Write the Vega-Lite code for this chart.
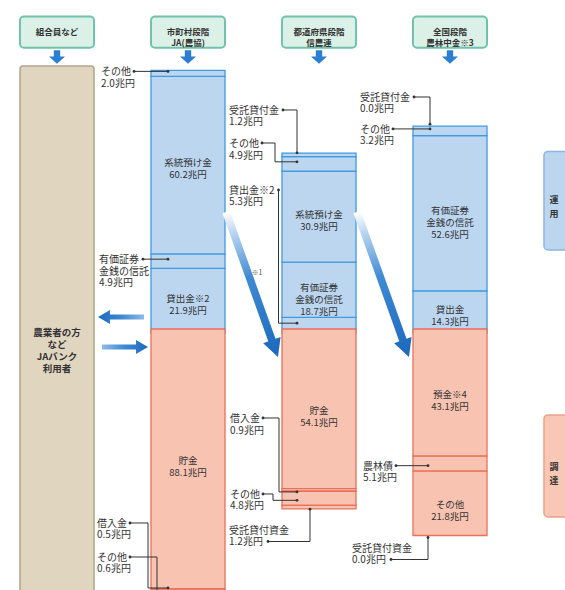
{
  "$schema": "https://vega.github.io/schema/vega-lite/v6.json",
  "width": 565,
  "height": 590,
  "autosize": {"type": "none"},
  "padding": 0,
  "background": "white",
  "config": {"view": {"stroke": null}, "font": "Noto Sans CJK JP", "text": {"font": "Noto Sans CJK JP"}},
  "datasets": {
    "bs": [
      {"col": "市町村段階 JA(農協)", "side": "資産", "item": "貸出金", "ord": 1, "value": 21.9, "inner": ["貸出金※2", "21.9兆円"]},
      {"col": "市町村段階 JA(農協)", "side": "資産", "item": "有価証券・金銭の信託", "ord": 2, "value": 4.9, "inner": ""},
      {"col": "市町村段階 JA(農協)", "side": "資産", "item": "系統預け金", "ord": 3, "value": 60.2, "inner": ["系統預け金", "60.2兆円"]},
      {"col": "市町村段階 JA(農協)", "side": "資産", "item": "その他", "ord": 4, "value": 2.0, "inner": ""},
      {"col": "市町村段階 JA(農協)", "side": "負債", "item": "貯金", "ord": 1, "value": 88.1, "inner": ["貯金", "88.1兆円"]},
      {"col": "市町村段階 JA(農協)", "side": "負債", "item": "借入金", "ord": 2, "value": 0.5, "inner": ""},
      {"col": "市町村段階 JA(農協)", "side": "負債", "item": "その他", "ord": 3, "value": 0.6, "inner": ""},
      {"col": "都道府県段階 信農連", "side": "資産", "item": "貸出金", "ord": 1, "value": 5.3, "inner": ""},
      {"col": "都道府県段階 信農連", "side": "資産", "item": "有価証券・金銭の信託", "ord": 2, "value": 18.7, "inner": ["有価証券", "金銭の信託", "18.7兆円"]},
      {"col": "都道府県段階 信農連", "side": "資産", "item": "系統預け金", "ord": 3, "value": 30.9, "inner": ["系統預け金", "30.9兆円"]},
      {"col": "都道府県段階 信農連", "side": "資産", "item": "その他", "ord": 4, "value": 4.9, "inner": ""},
      {"col": "都道府県段階 信農連", "side": "資産", "item": "受託貸付金", "ord": 5, "value": 1.2, "inner": ""},
      {"col": "都道府県段階 信農連", "side": "負債", "item": "貯金", "ord": 1, "value": 54.1, "inner": ["貯金", "54.1兆円"]},
      {"col": "都道府県段階 信農連", "side": "負債", "item": "借入金", "ord": 2, "value": 0.9, "inner": ""},
      {"col": "都道府県段階 信農連", "side": "負債", "item": "その他", "ord": 3, "value": 4.8, "inner": ""},
      {"col": "都道府県段階 信農連", "side": "負債", "item": "受託貸付資金", "ord": 4, "value": 1.2, "inner": ""},
      {"col": "全国段階 農林中金", "side": "資産", "item": "貸出金", "ord": 1, "value": 14.3, "inner": ["貸出金", "14.3兆円"]},
      {"col": "全国段階 農林中金", "side": "資産", "item": "有価証券・金銭の信託", "ord": 2, "value": 52.6, "inner": ["有価証券", "金銭の信託", "52.6兆円"]},
      {"col": "全国段階 農林中金", "side": "資産", "item": "その他", "ord": 3, "value": 3.2, "inner": ""},
      {"col": "全国段階 農林中金", "side": "資産", "item": "受託貸付金", "ord": 4, "value": 0.0, "inner": ""},
      {"col": "全国段階 農林中金", "side": "負債", "item": "預金", "ord": 1, "value": 43.1, "inner": ["預金※4", "43.1兆円"]},
      {"col": "全国段階 農林中金", "side": "負債", "item": "農林債", "ord": 2, "value": 5.1, "inner": ""},
      {"col": "全国段階 農林中金", "side": "負債", "item": "その他", "ord": 3, "value": 21.8, "inner": ["その他", "21.8兆円"]},
      {"col": "全国段階 農林中金", "side": "負債", "item": "受託貸付資金", "ord": 4, "value": 0.0, "inner": ""}
    ],
    "cols": [
      {"col": "組合員など", "header": ["組合員など"]},
      {"col": "市町村段階 JA(農協)", "header": ["市町村段階", "JA(農協)"]},
      {"col": "都道府県段階 信農連", "header": ["都道府県段階", "信農連"]},
      {"col": "全国段階 農林中金", "header": ["全国段階", "農林中金※3"]}
    ],
    "leaders": [
      {"id": "L1", "seq": 1, "x": 134, "y": 88.0, "dot": true},
      {"id": "L1", "seq": 2, "x": 168, "y": 88.0, "dot": true},
      {"id": "L2", "seq": 1, "x": 143, "y": 24.35, "dot": true},
      {"id": "L2", "seq": 2, "x": 168, "y": 24.35, "dot": true},
      {"id": "L3", "seq": 1, "x": 130, "y": -65.08, "dot": true},
      {"id": "L3", "seq": 2, "x": 148, "y": -65.08, "dot": false},
      {"id": "L3", "seq": 3, "x": 148, "y": -87.12, "dot": false},
      {"id": "L3", "seq": 4, "x": 168, "y": -87.12, "dot": true},
      {"id": "L4", "seq": 1, "x": 130, "y": -76.61, "dot": true},
      {"id": "L4", "seq": 2, "x": 157, "y": -76.61, "dot": false},
      {"id": "L4", "seq": 3, "x": 157, "y": -89.5, "dot": false},
      {"id": "L4", "seq": 4, "x": 168, "y": -89.5, "dot": true},
      {"id": "L5", "seq": 1, "x": 283, "y": 74.92, "dot": true},
      {"id": "L5", "seq": 2, "x": 297, "y": 74.92, "dot": false},
      {"id": "L5", "seq": 3, "x": 297, "y": 60.4, "dot": true},
      {"id": "L6", "seq": 1, "x": 262, "y": 63.73, "dot": true},
      {"id": "L6", "seq": 2, "x": 275, "y": 63.73, "dot": false},
      {"id": "L6", "seq": 3, "x": 275, "y": 57.35, "dot": false},
      {"id": "L6", "seq": 4, "x": 297, "y": 57.35, "dot": true},
      {"id": "L7", "seq": 1, "x": 278.5, "y": 47.8, "dot": true},
      {"id": "L7", "seq": 2, "x": 278.5, "y": 2.65, "dot": false},
      {"id": "L7", "seq": 3, "x": 297, "y": 2.65, "dot": true},
      {"id": "L8", "seq": 1, "x": 263, "y": -29.49, "dot": true},
      {"id": "L8", "seq": 2, "x": 279, "y": -29.49, "dot": false},
      {"id": "L8", "seq": 3, "x": 279, "y": -54.55, "dot": false},
      {"id": "L8", "seq": 4, "x": 297, "y": -54.55, "dot": true},
      {"id": "L9", "seq": 1, "x": 263, "y": -55.25, "dot": true},
      {"id": "L9", "seq": 2, "x": 273, "y": -55.25, "dot": false},
      {"id": "L9", "seq": 3, "x": 273, "y": -57.4, "dot": false},
      {"id": "L9", "seq": 4, "x": 297, "y": -57.4, "dot": true},
      {"id": "L10", "seq": 1, "x": 268, "y": -71.36, "dot": true},
      {"id": "L10", "seq": 2, "x": 310, "y": -71.36, "dot": false},
      {"id": "L10", "seq": 3, "x": 310, "y": -60.4, "dot": true},
      {"id": "L11", "seq": 1, "x": 414, "y": 79.32, "dot": true},
      {"id": "L11", "seq": 2, "x": 430, "y": 79.32, "dot": false},
      {"id": "L11", "seq": 3, "x": 430, "y": 70.1, "dot": true},
      {"id": "L12", "seq": 1, "x": 393, "y": 68.5, "dot": true},
      {"id": "L12", "seq": 2, "x": 430, "y": 68.5, "dot": true},
      {"id": "L13", "seq": 1, "x": 396, "y": -45.65, "dot": true},
      {"id": "L13", "seq": 2, "x": 428, "y": -45.65, "dot": true},
      {"id": "L14", "seq": 1, "x": 391, "y": -77.46, "dot": true},
      {"id": "L14", "seq": 2, "x": 428, "y": -77.46, "dot": false},
      {"id": "L14", "seq": 3, "x": 428, "y": -70.0, "dot": true}
    ],
    "labels": [
      {"x": 101, "y": 89.36, "t": ["その他", "2.0兆円"]},
      {"x": 99, "y": 25.7, "t": ["有価証券", "金銭の信託", "4.9兆円"]},
      {"x": 97, "y": -63.73, "t": ["借入金", "0.5兆円"]},
      {"x": 97, "y": -75.25, "t": ["その他", "0.6兆円"]},
      {"x": 229, "y": 76.27, "t": ["受託貸付金", "1.2兆円"]},
      {"x": 229, "y": 65.08, "t": ["その他", "4.9兆円"]},
      {"x": 229, "y": 49.15, "t": ["貸出金※2", "5.3兆円"]},
      {"x": 230, "y": -28.14, "t": ["借入金", "0.9兆円"]},
      {"x": 230, "y": -53.9, "t": ["その他", "4.8兆円"]},
      {"x": 229, "y": -66.1, "t": ["受託貸付資金", "1.2兆円"]},
      {"x": 360, "y": 80.68, "t": ["受託貸付金", "0.0兆円"]},
      {"x": 360, "y": 69.86, "t": ["その他", "3.2兆円"]},
      {"x": 363, "y": -44.3, "t": ["農林債", "5.1兆円"]},
      {"x": 352, "y": -72.2, "t": ["受託貸付資金", "0.0兆円"]}
    ]
  },
  "layer": [
    {
      "data": {"name": "bs"},
      "transform": [{"filter": "datum.side === '資産' && datum.value > 0"}],
      "encoding": {
        "x": {"field": "col", "type": "nominal", "axis": null,
              "scale": {"type": "band", "domain": ["組合員など", "市町村段階 JA(農協)", "都道府県段階 信農連", "全国段階 農林中金", "運用・調達"], "range": [20, 618], "paddingInner": 0.435, "paddingOuter": 0}},
        "order": {"field": "ord", "type": "quantitative"}
      },
      "layer": [
        {
          "mark": {"type": "bar", "fill": "#bcd6f0", "stroke": "#3f9ae0", "strokeWidth": 1.3, "yOffset": 2, "y2Offset": -2},
          "encoding": {"y": {"field": "value", "type": "quantitative", "stack": "zero", "axis": null, "scale": {"domain": [-87.8, 112.2], "nice": false, "zero": false}}}
        },
        {
          "mark": {"type": "text", "fontSize": 9.5, "lineHeight": 12, "baseline": "middle", "color": "#333333"},
          "encoding": {
            "y": {"field": "value", "type": "quantitative", "stack": "zero", "bandPosition": 0.5, "axis": null, "scale": {"domain": [-87.8, 112.2], "nice": false, "zero": false}},
            "text": {"field": "inner"}
          }
        }
      ]
    },
    {
      "data": {"name": "bs"},
      "transform": [{"filter": "datum.side === '負債' && datum.value > 0"}],
      "encoding": {
        "x": {"field": "col", "type": "nominal", "axis": null,
              "scale": {"type": "band", "domain": ["組合員など", "市町村段階 JA(農協)", "都道府県段階 信農連", "全国段階 農林中金", "運用・調達"], "range": [20, 618], "paddingInner": 0.435, "paddingOuter": 0}},
        "order": {"field": "ord", "type": "quantitative"}
      },
      "layer": [
        {
          "mark": {"type": "bar", "fill": "#f9c3b1", "stroke": "#e8705a", "strokeWidth": 1.3, "yOffset": -2, "y2Offset": 2},
          "encoding": {"y": {"field": "value", "type": "quantitative", "stack": "zero", "axis": null, "scale": {"domain": [-112.2, 87.8], "reverse": true, "nice": false, "zero": false}}}
        },
        {
          "mark": {"type": "text", "fontSize": 9.5, "lineHeight": 12, "baseline": "middle", "color": "#333333"},
          "encoding": {
            "y": {"field": "value", "type": "quantitative", "stack": "zero", "bandPosition": 0.5, "axis": null, "scale": {"domain": [-112.2, 87.8], "reverse": true, "nice": false, "zero": false}},
            "text": {"field": "inner"}
          }
        }
      ]
    },
    {
      "encoding": {
        "x": {"field": "col", "type": "nominal", "axis": null,
              "scale": {"type": "band", "domain": ["組合員など", "市町村段階 JA(農協)", "都道府県段階 信農連", "全国段階 農林中金", "運用・調達"], "range": [20, 618], "paddingInner": 0.435, "paddingOuter": 0}}
      },
      "layer": [
        {
          "data": {"name": "cols"},
          "mark": {"type": "rect", "fill": "#dbf0e7", "stroke": "#6fc2ac", "strokeWidth": 2, "cornerRadius": 4},
          "encoding": {
            "y": {"datum": 106.6, "type": "quantitative", "axis": null, "scale": {"domain": [-87.8, 112.2], "nice": false, "zero": false}},
            "y2": {"datum": 96.0}
          }
        },
        {
          "data": {"name": "cols"},
          "mark": {"type": "text", "fontSize": 8.5, "fontWeight": "bold", "lineHeight": 11, "baseline": "middle", "color": "#333333"},
          "encoding": {
            "y": {"datum": 101.3, "type": "quantitative", "axis": null, "scale": {"domain": [-87.8, 112.2], "nice": false, "zero": false}},
            "text": {"field": "header"}
          }
        },
        {
          "data": {"name": "cols"},
          "mark": {"type": "point", "shape": "M-0.4,-0.85L0.4,-0.85L0.4,-0.05L1,-0.05L0,0.85L-1,-0.05L-0.4,-0.05Z", "size": 256, "filled": true, "fill": "#2b7fd2", "strokeWidth": 0, "opacity": 1},
          "encoding": {
            "y": {"datum": 92.88, "type": "quantitative", "axis": null, "scale": {"domain": [-87.8, 112.2], "nice": false, "zero": false}}
          }
        },
        {
          "data": {"values": [{"col": "組合員など", "t": ["農業者の方", "など", "JAバンク", "利用者"]}]},
          "layer": [
            {
              "mark": {"type": "rect", "fill": "#e0d5bf", "stroke": "#b3a489", "strokeWidth": 1.5, "cornerRadius": 3},
              "encoding": {
                "y": {"datum": 89.83, "type": "quantitative", "axis": null, "scale": {"domain": [-87.8, 112.2], "nice": false, "zero": false}},
                "y2": {"datum": -92}
              }
            },
            {
              "mark": {"type": "text", "fontSize": 9.5, "fontWeight": "bold", "lineHeight": 12, "baseline": "middle", "color": "#333333"},
              "encoding": {
                "y": {"datum": -0.68, "type": "quantitative", "axis": null, "scale": {"domain": [-87.8, 112.2], "nice": false, "zero": false}},
                "text": {"field": "t"}
              }
            }
          ]
        },
        {
          "data": {"values": [{"col": "運用・調達"}]},
          "layer": [
            {
              "mark": {"type": "rect", "fill": "#bcd6f0", "stroke": "#8fb6de", "strokeWidth": 1.5, "cornerRadius": 4},
              "encoding": {
                "y": {"datum": 60.85, "type": "quantitative", "axis": null, "scale": {"domain": [-87.8, 112.2], "nice": false, "zero": false}},
                "y2": {"datum": 27.46}
              }
            },
            {
              "mark": {"type": "rect", "fill": "#f9c7b6", "stroke": "#eda08a", "strokeWidth": 1.5, "cornerRadius": 4},
              "encoding": {
                "y": {"datum": -28.47, "type": "quantitative", "axis": null, "scale": {"domain": [-87.8, 112.2], "nice": false, "zero": false}},
                "y2": {"datum": -63.05}
              }
            }
          ]
        }
      ]
    },
    {
      "layer": [
        {
          "data": {"name": "leaders"},
          "mark": {"type": "line", "color": "#333333", "strokeWidth": 1},
          "encoding": {
            "x": {"field": "x", "type": "quantitative", "axis": null, "scale": {"domain": [0, 565], "nice": false, "zero": false}},
            "y": {"field": "y", "type": "quantitative", "axis": null, "scale": {"domain": [-87.8, 112.2], "nice": false, "zero": false}},
            "detail": {"field": "id"},
            "order": {"field": "seq", "type": "quantitative"}
          }
        },
        {
          "data": {"name": "leaders"},
          "transform": [{"filter": "datum.dot"}],
          "mark": {"type": "point", "filled": true, "color": "#333333", "size": 8, "opacity": 1},
          "encoding": {
            "x": {"field": "x", "type": "quantitative", "axis": null, "scale": {"domain": [0, 565], "nice": false, "zero": false}},
            "y": {"field": "y", "type": "quantitative", "axis": null, "scale": {"domain": [-87.8, 112.2], "nice": false, "zero": false}}
          }
        },
        {
          "data": {"name": "labels"},
          "mark": {"type": "text", "align": "left", "baseline": "top", "fontSize": 10, "lineHeight": 11.5, "color": "#333333"},
          "encoding": {
            "x": {"field": "x", "type": "quantitative", "axis": null, "scale": {"domain": [0, 565], "nice": false, "zero": false}},
            "y": {"field": "y", "type": "quantitative", "axis": null, "scale": {"domain": [-87.8, 112.2], "nice": false, "zero": false}},
            "text": {"field": "t"}
          }
        },
        {
          "data": {"values": [{"x": 257, "y": 19.66, "t": "※1"}]},
          "mark": {"type": "text", "fontSize": 7, "color": "#555555", "baseline": "middle"},
          "encoding": {
            "x": {"field": "x", "type": "quantitative", "axis": null, "scale": {"domain": [0, 565], "nice": false, "zero": false}},
            "y": {"field": "y", "type": "quantitative", "axis": null, "scale": {"domain": [-87.8, 112.2], "nice": false, "zero": false}},
            "text": {"field": "t"}
          }
        },
        {
          "data": {"values": [{"x": 554, "y": 44.4, "t": ["運", "用"]}, {"x": 554, "y": -46.1, "t": ["調", "達"]}]},
          "mark": {"type": "text", "fontSize": 9, "fontWeight": "bold", "lineHeight": 14, "baseline": "middle", "color": "#333333"},
          "encoding": {
            "x": {"field": "x", "type": "quantitative", "axis": null, "scale": {"domain": [0, 565], "nice": false, "zero": false}},
            "y": {"field": "y", "type": "quantitative", "axis": null, "scale": {"domain": [-87.8, 112.2], "nice": false, "zero": false}},
            "text": {"field": "t"}
          }
        },
        {
          "data": {"values": [{"x": 252, "y": 15.76}, {"x": 383, "y": 15.76}]},
          "mark": {"type": "point", "shape": "M-0.05,-1L0.05,-1L0.05,0.766L0.12,0.766L0,1L-0.12,0.766L-0.05,0.766Z", "size": 23716, "angle": 340.3, "filled": true, "opacity": 1, "strokeWidth": 0,
                   "fill": {"gradient": "linear", "x1": 0, "y1": 0, "x2": 0, "y2": 1, "stops": [{"offset": 0, "color": "#ffffff"}, {"offset": 0.15, "color": "#b7d4f0"}, {"offset": 0.45, "color": "#3f8ad4"}, {"offset": 1, "color": "#1b68bd"}]}},
          "encoding": {
            "x": {"field": "x", "type": "quantitative", "axis": null, "scale": {"domain": [0, 565], "nice": false, "zero": false}},
            "y": {"field": "y", "type": "quantitative", "axis": null, "scale": {"domain": [-87.8, 112.2], "nice": false, "zero": false}}
          }
        },
        {
          "data": {"values": [{"x": 121, "y": 4.75, "dir": "left"}, {"x": 125, "y": -5.42, "dir": "right"}]},
          "mark": {"type": "point", "shape": "M-1,-0.11L0.48,-0.11L0.48,-0.3L1,0L0.48,0.3L0.48,0.11L-1,0.11Z", "size": 2116, "filled": true, "opacity": 1, "strokeWidth": 0,
                   "fill": {"gradient": "linear", "x1": 0, "y1": 0, "x2": 1, "y2": 0, "stops": [{"offset": 0, "color": "#8dbbe6"}, {"offset": 0.5, "color": "#3d88d2"}, {"offset": 1, "color": "#1d6bbf"}]}},
          "encoding": {
            "x": {"field": "x", "type": "quantitative", "axis": null, "scale": {"domain": [0, 565], "nice": false, "zero": false}},
            "y": {"field": "y", "type": "quantitative", "axis": null, "scale": {"domain": [-87.8, 112.2], "nice": false, "zero": false}},
            "angle": {"field": "dir", "type": "nominal", "legend": null, "scale": {"domain": ["left", "right"], "range": [180, 0]}}
          }
        }
      ]
    }
  ],
  "resolve": {"scale": {"x": "independent", "y": "independent"}}
}
